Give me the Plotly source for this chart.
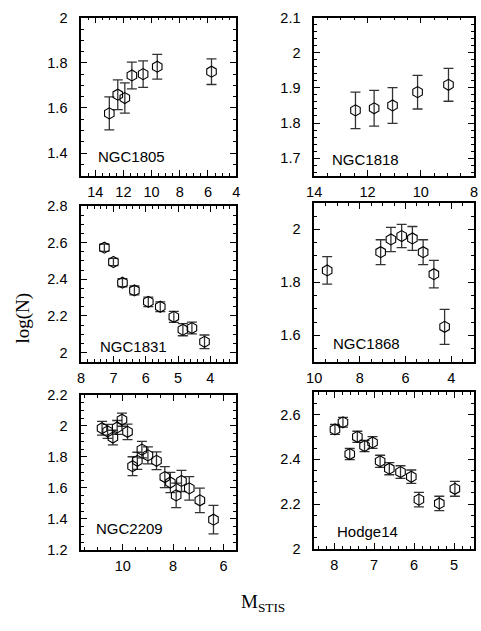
import plotly.graph_objects as go

W, H = 481, 631

# ---- data ----
ngc1805_x = [13.0, 12.4, 11.9, 11.4, 10.6, 9.6, 5.75]
ngc1805_y = [1.576, 1.659, 1.644, 1.744, 1.750, 1.783, 1.761]
ngc1805_e = [0.073, 0.066, 0.067, 0.059, 0.059, 0.055, 0.057]

ngc1818_x = [12.45, 11.75, 11.06, 10.12, 8.96]
ngc1818_y = [1.836, 1.842, 1.850, 1.888, 1.909]
ngc1818_e = [0.052, 0.051, 0.051, 0.048, 0.047]

ngc1831_x = [7.28, 7.0, 6.72, 6.35, 5.92, 5.55, 5.13, 4.85, 4.57, 4.18]
ngc1831_y = [2.572, 2.494, 2.381, 2.339, 2.277, 2.250, 2.195, 2.125, 2.134, 2.059]
ngc1831_e = [0.020, 0.020, 0.022, 0.024, 0.026, 0.027, 0.030, 0.033, 0.032, 0.037]

ngc1868_x = [9.43, 7.09, 6.64, 6.17, 5.70, 5.23, 4.76, 4.29]
ngc1868_y = [1.845, 1.914, 1.962, 1.975, 1.966, 1.914, 1.831, 1.632]
ngc1868_e = [0.052, 0.047, 0.046, 0.044, 0.045, 0.047, 0.052, 0.066]

ngc2209_x = [10.82, 10.60, 10.39, 10.22, 10.03, 9.81, 9.61, 9.42, 9.24, 9.00,
             8.66, 8.33, 8.11, 7.88, 7.67, 7.36, 6.94, 6.40]
ngc2209_y = [1.985, 1.965, 1.925, 1.990, 2.040, 1.962, 1.740, 1.775, 1.847, 1.810,
             1.775, 1.670, 1.635, 1.552, 1.645, 1.597, 1.520, 1.395]
ngc2209_e = [0.044, 0.045, 0.047, 0.045, 0.042, 0.050, 0.061, 0.055, 0.053, 0.055,
             0.057, 0.068, 0.065, 0.079, 0.068, 0.076, 0.079, 0.092]

hodge14_x = [7.98, 7.78, 7.61, 7.42, 7.24, 7.04, 6.85, 6.62, 6.34, 6.07, 5.88, 5.37, 4.98]
hodge14_y = [2.533, 2.565, 2.423, 2.500, 2.459, 2.475, 2.391, 2.358, 2.343, 2.322, 2.220, 2.203, 2.268]
hodge14_e = [0.022, 0.022, 0.025, 0.025, 0.025, 0.026, 0.027, 0.027, 0.028, 0.030, 0.032, 0.032, 0.033]

names = ["NGC1805", "NGC1818", "NGC1831", "NGC1868", "NGC2209", "Hodge14"]
xs = [ngc1805_x, ngc1818_x, ngc1831_x, ngc1868_x, ngc2209_x, hodge14_x]
ys = [ngc1805_y, ngc1818_y, ngc1831_y, ngc1868_y, ngc2209_y, hodge14_y]
es = [ngc1805_e, ngc1818_e, ngc1831_e, ngc1868_e, ngc2209_e, hodge14_e]

# ---- layout specs (pixels) ----
boxes = [(75, 234, 10, 172), (314, 478, 10, 172),
         (75, 234, 203, 363), (314, 478, 200, 363),
         (75, 234, 397, 556), (314, 478, 394, 555)]
xranges = [[15, 4], [14, 8], [8, 3.2], [10, 3], [11.65, 5.5], [8.5, 4.5]]
yranges = [[1.3, 2.0], [1.65, 2.1], [1.95, 2.8], [1.5, 2.1], [1.2, 2.2], [2.0, 2.7]]
xdt = [(2, 0.5), (2, 0.5), (1, 0.2), (2, 0.5), (2, 0.5), (1, 0.2)]
ydt = [(0.2, 0.05), (0.1, 0.02), (0.2, 0.05), (0.2, 0.05), (0.2, 0.05), (0.2, 0.05)]
label_pos = [(90, 152), (330, 155), (92, 347), (331, 344), (88, 534), (335, 537)]

fig = go.Figure()
tickfont = dict(family="Liberation Sans, Arial, sans-serif", size=14.5, color="black")

for i in range(6):
    xa = "x" if i == 0 else f"x{i+1}"
    ya = "y" if i == 0 else f"y{i+1}"
    fig.add_trace(go.Scatter(
        x=xs[i], y=ys[i], mode="markers", xaxis=xa, yaxis=ya,
        marker=dict(symbol="hexagon-open", size=11, color="black", line=dict(width=1.1, color="black")),
        error_y=dict(type="data", array=es[i], visible=True, color="#333333", thickness=1.3, width=5),
        showlegend=False, cliponaxis=False))
    l, r, t, b = boxes[i]
    axcommon = dict(showgrid=False, zeroline=False, showline=True, linecolor="black", linewidth=1.5,
                    mirror="allticks", ticks="inside", ticklen=6, tickwidth=1, tickcolor="black",
                    tickfont=tickfont)
    xkey = "xaxis" if i == 0 else f"xaxis{i+1}"
    ykey = "yaxis" if i == 0 else f"yaxis{i+1}"
    fig.update_layout(**{
        xkey: dict(domain=[l / W, r / W], range=xranges[i], anchor=ya, dtick=xdt[i][0], tick0=0,
                   minor=dict(dtick=xdt[i][1], tick0=0, ticks="inside", ticklen=3, tickcolor="black", tickwidth=1),
                   ticklabelstandoff=2, **axcommon),
        ykey: dict(domain=[1 - b / H, 1 - t / H], range=yranges[i], anchor=xa, dtick=ydt[i][0], tick0=0,
                   minor=dict(dtick=ydt[i][1], tick0=0, ticks="inside", ticklen=3, tickcolor="black", tickwidth=1),
                   ticklabelstandoff=9, **axcommon),
    })
    fig.add_annotation(x=label_pos[i][0] / W, y=1 - label_pos[i][1] / H, xref="paper", yref="paper",
                       text=names[i], showarrow=False, xanchor="left", yanchor="middle",
                       font=dict(family="Liberation Sans, Arial, sans-serif", size=15, color="black"))

fig.add_annotation(x=15 / W, y=1 - 318 / H, xref="paper", yref="paper", text="log(N)", textangle=-90,
                   showarrow=False, xanchor="center", yanchor="middle",
                   font=dict(family="Liberation Serif, Times New Roman, serif", size=19, color="black"))
fig.add_annotation(x=262 / W, y=1 - 610 / H, xref="paper", yref="paper", text="M<sub>STIS</sub>",
                   showarrow=False, xanchor="center", yanchor="middle",
                   font=dict(family="Liberation Serif, Times New Roman, serif", size=19, color="black"))

fig.update_layout(width=W, height=H, margin=dict(l=0, r=0, t=0, b=0),
                  paper_bgcolor="white", plot_bgcolor="white")

fig.write_html("out.html")
